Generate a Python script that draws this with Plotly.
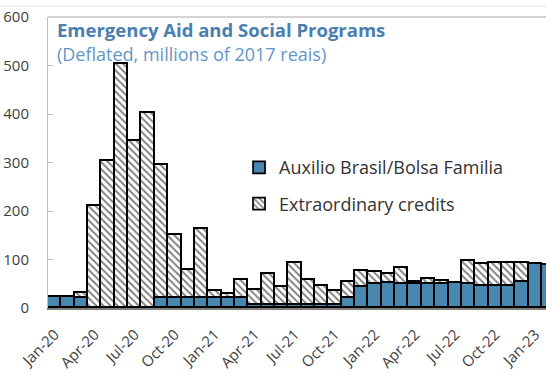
import plotly.graph_objects as go

months = ["Jan-20","Feb-20","Mar-20","Apr-20","May-20","Jun-20","Jul-20","Aug-20","Sep-20","Oct-20","Nov-20","Dec-20",
          "Jan-21","Feb-21","Mar-21","Apr-21","May-21","Jun-21","Jul-21","Aug-21","Sep-21","Oct-21","Nov-21","Dec-21",
          "Jan-22","Feb-22","Mar-22","Apr-22","May-22","Jun-22","Jul-22","Aug-22","Sep-22","Oct-22","Nov-22","Dec-22",
          "Jan-23","Feb-23"]
bolsa = [22, 22, 21, 0, 0, 0, 0, 0, 21, 21, 21, 21,
         20, 20, 20, 7, 7, 7, 7, 7, 7, 7, 21, 43,
         49, 51, 49, 50, 49, 49, 52, 49, 45, 45, 45, 53,
         90, 88]
extraordinary = [0, 0, 9, 211, 303, 503, 344, 403, 273, 130, 58, 142,
                 15, 9, 38, 31, 64, 36, 85, 51, 38, 29, 33, 34,
                 26, 20, 34, 4, 10, 7, 0, 48, 46, 47, 47, 39,
                 0, 0]
tick_every = 3
y_ticks = [0, 100, 200, 300, 400, 500, 600]

x = list(range(len(months)))
FONT = "Open Sans"
BLUE = "#4787B0"

fig = go.Figure()
fig.add_trace(go.Bar(
    x=x, y=bolsa, name="Auxilio Brasil/Bolsa Familia", legendgroup="a",
    marker=dict(color=BLUE, line=dict(color="black", width=1.7)),
))
fig.add_trace(go.Bar(
    x=x, y=extraordinary, name="Extraordinary credits", legendgroup="b",
    marker=dict(color="white", line=dict(color="black", width=1.7),
                pattern=dict(shape="\\", fgcolor="black", bgcolor="white", size=5, solidity=0.38)),
))

fig.update_layout(
    barmode="stack", bargap=0,
    width=546, height=374,
    margin=dict(l=48, r=0, t=17, b=66, autoexpand=False),
    plot_bgcolor="white", paper_bgcolor="white",
    font=dict(family=FONT, color="#404040"),
    showlegend=True,
    legend=dict(x=0.3836, y=0.546, xanchor="left", yanchor="top",
                traceorder="grouped", tracegroupgap=10,
                font=dict(size=18, color="#333333", family=FONT),
                bgcolor="rgba(0,0,0,0)"),
    xaxis=dict(range=[-0.5, 36.8], tickmode="array",
               tickvals=x[::tick_every], ticktext=months[::tick_every],
               tickangle=-45, tickfont=dict(size=15, color="#404040"),
               ticklabelstandoff=10,
               showline=True, linecolor="#808080", linewidth=2,
               ticks="", showgrid=False, zeroline=False, automargin=False),
    yaxis=dict(range=[0, 600], tickvals=y_ticks, tickfont=dict(size=15, color="#404040"),
               showline=True, linecolor="#bfbfbf", linewidth=1,
               ticks="inside", ticklen=5, tickcolor="#bfbfbf",
               ticklabelstandoff=15,
               showgrid=False, zeroline=False, automargin=False),
    shapes=[
        dict(type="line", xref="paper", yref="paper", x0=0, x1=1, y0=1, y1=1,
             line=dict(color="#a6a6a6", width=1)),
        dict(type="line", xref="paper", yref="paper", x0=-0.0964, x1=1, y0=1.0378, y1=1.0378,
             line=dict(color="#e0e0e0", width=1)),
    ],
    annotations=[
        dict(text="<b>Emergency Aid and Social Programs</b>", xref="paper", yref="paper",
             x=0.014, y=0.958, xanchor="left", yanchor="middle", showarrow=False,
             font=dict(size=18.5, color="#4A7EB0", family=FONT)),
        dict(text="(Deflated, millions of 2017 reais)", xref="paper", yref="paper",
             x=0.014, y=0.874, xanchor="left", yanchor="middle", showarrow=False,
             font=dict(size=18, color="#5F97C8", family=FONT)),
    ],
)

fig.write_html("out.html", config={"displayModeBar": False},
               post_script="document.body.style.margin='0';")
